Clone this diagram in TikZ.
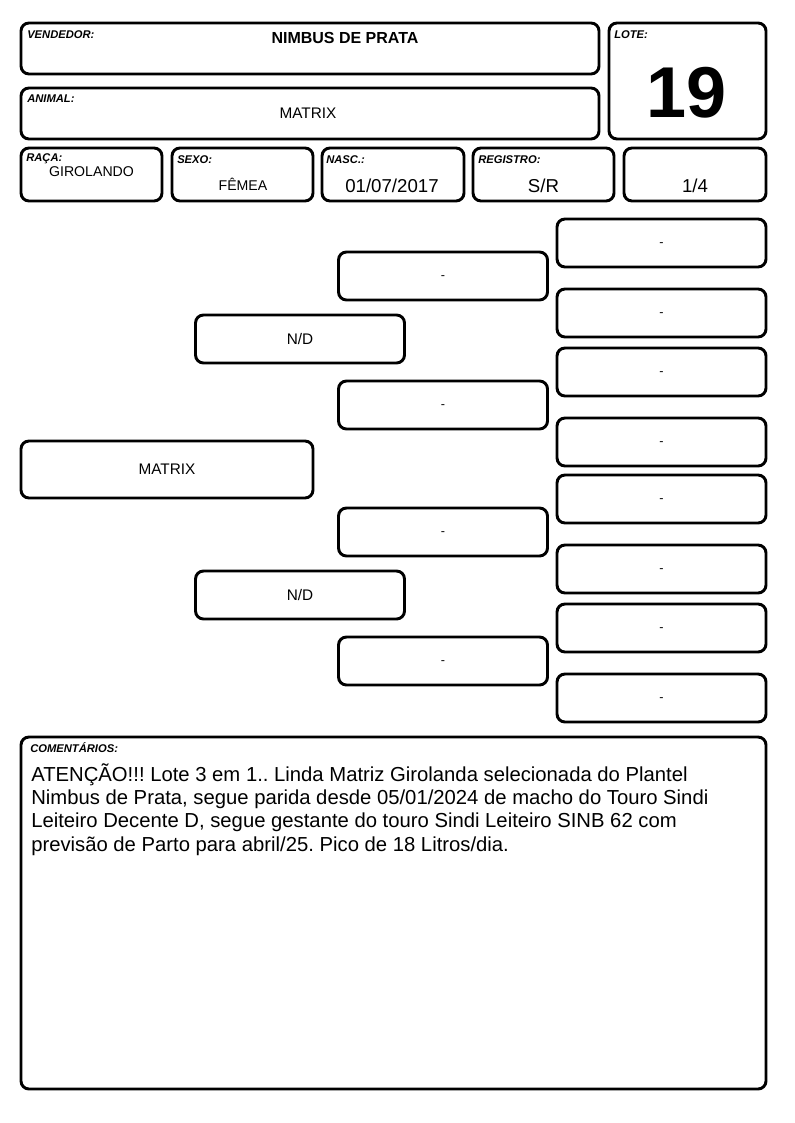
\documentclass[tikz,border=0pt]{standalone}
\usepackage{fontspec}
\setmainfont{Liberation Sans}
\frenchspacing
\newcommand\comfont{\fontsize{15.2}{17.5}\selectfont\lineskiplimit=-20pt\relax}

\begin{document}
\begin{tikzpicture}[x=0.75pt,y=-0.75pt]
                \tikzset{box/.style 2 args = {draw, line width=2.2pt, rounded corners=6pt, minimum width=#1*0.75pt, minimum height=#2*0.75pt, inner sep=0pt}}
                \tikzset{tag/.style = {anchor=west, inner sep=0pt, font=\fontsize{8.4}{9}\selectfont\bfseries\itshape}}
                \tikzset{val/.style = {inner sep=0pt, font=\fontsize{10.6}{12}\selectfont}}
                \tikzset{big/.style = {inner sep=0pt, font=\fontsize{14}{16}\selectfont}}
                \tikzset{ped/.style = {box={209}{48}, font=\fontsize{11.5}{13}\selectfont}}
                \tikzset{dash box/.style = {box={209}{48}, font=\fontsize{9.5}{10}\selectfont, text height=0.54em, text depth=0pt}}
                \useasboundingbox (0,0) rectangle (794,1123);

                % header
                \node[box={578}{51}] (vend) at (310, 48.5) {};
                \node[box={578}{51}] (anim) at (310, 113.5) {};
                \node[box={157}{116}] (lote) at (687.5, 81) {};
                \node[box={141}{53}] (raca) at (91.5, 174.5) {};
                \node[box={141}{53}] (sexo) at (242.5, 174.5) {};
                \node[box={142}{53}] (nasc) at (393, 174.5) {};
                \node[box={141}{53}] (reg) at (543.5, 174.5) {};
                \node[box={142}{53}] (frac) at (695, 174.5) {};

                \node[tag] (vendtag) at (27, 35) {VENDEDOR:};
                \node[inner sep=0pt, font=\fontsize{12}{14}\selectfont\bfseries] (vendval) at (345, 38) {NIMBUS DE PRATA};
                \node[tag] (animtag) at (27, 99) {ANIMAL:};
                \node[val, font=\fontsize{11.5}{13}\selectfont] (animval) at (308, 113) {MATRIX};
                \node[tag] (lotetag) at (614, 35) {LOTE:};
                \node[inner sep=0pt, font=\fontsize{54}{60}\selectfont\bfseries] (loteval) at (687, 93) {19};
                \node[tag] (racatag) at (26, 159) {RAÇA:};
                \node[val] (racaval) at (91.5, 172) {GIROLANDO};
                \node[tag] (sexotag) at (177, 160) {SEXO:};
                \node[val] (sexoval) at (243, 184) {FÊMEA};
                \node[tag] (nasctag) at (326, 160) {NASC.:};
                \node[big] (nascval) at (392, 186) {01/07/2017};
                \node[tag] (regtag) at (478, 160) {REGISTRO:};
                \node[big] (regval) at (543.5, 186) {S/R};
                \node[big] (fracval) at (695, 186) {1/4};

                % pedigree
                \node[box={292}{57}, font=\fontsize{11.5}{13}\selectfont] (p0) at (167, 469.5) {MATRIX};
                \node[ped] (p1) at (300, 339) {N/D};
                \node[ped] (p2) at (300, 595) {N/D};

                \node[dash box] (p11) at (443, 276) {-};
                \node[dash box] (p12) at (443, 405) {-};
                \node[dash box] (p21) at (443, 532) {-};
                \node[dash box] (p22) at (443, 661) {-};

                \node[dash box] (p111) at (661.5, 243) {-};
                \node[dash box] (p112) at (661.5, 313) {-};
                \node[dash box] (p121) at (661.5, 372) {-};
                \node[dash box] (p122) at (661.5, 442) {-};
                \node[dash box] (p211) at (661.5, 499) {-};
                \node[dash box] (p212) at (661.5, 569) {-};
                \node[dash box] (p221) at (661.5, 628) {-};
                \node[dash box] (p222) at (661.5, 698) {-};

                % comments
                \node[box={745}{352}] (com) at (393.5, 913) {};
                \node[tag] (comtag) at (30, 748) {COMENTÁRIOS:};
                \node[anchor=north west, inner sep=0pt, align=left, font=\comfont] (comtext) at (31, 763) {ATENÇÃO!!! Lote 3 em 1.. Linda Matriz Girolanda selecionada do Plantel\\Nimbus de Prata, segue parida desde 05/01/2024 de macho do Touro Sindi\\Leiteiro Decente D, segue gestante do touro Sindi Leiteiro SINB 62 com\\previsão de Parto para abril/25. Pico de 18 Litros/dia.};
            \end{tikzpicture}
\end{document}
